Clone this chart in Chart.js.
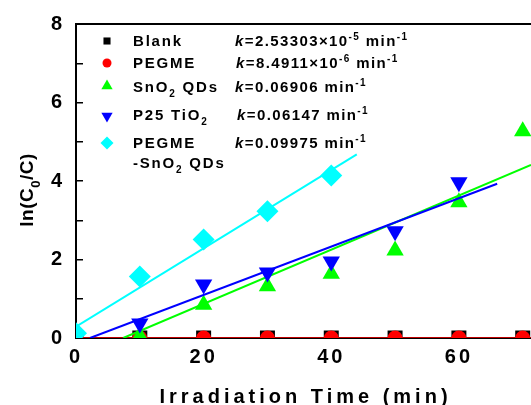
<!DOCTYPE html>
<html><head><meta charset="utf-8">
<script src="https://cdn.jsdelivr.net/npm/chart.js@4.4.0/dist/chart.umd.min.js"></script>
<style>html,body{margin:0;padding:0;background:#fff;} canvas{display:block;}</style>
</head><body>
<canvas id="c" width="531" height="405"></canvas>
<script>
// ---- data ----
const timeMin = [0, 10, 20, 30, 40, 50, 60, 70];
const blankY = [0, 0, 0, 0, 0, 0, 0, 0];
const pegmeY = [0, 0, 0, 0, 0, 0, 0, 0];
const sno2X = [10, 20, 30, 40, 50, 60, 70];
const sno2Y = [0.05, 0.85, 1.32, 1.64, 2.23, 3.46, 5.27];
const p25X = [0, 10, 20, 30, 40, 50, 60];
const p25Y = [0.05, 0.37, 1.36, 1.67, 1.95, 2.72, 3.97];
const pegmeSno2X = [0, 10, 20, 30, 40];
const pegmeSno2Y = [0.12, 1.57, 2.51, 3.23, 4.14];
// fitted line end points
const blankFitX = [0, 71.3], blankFitY = [0, 0];
const pegmeFitX = [0, 71.3], pegmeFitY = [0, 0];
const sno2FitX = [7.4, 71.3], sno2FitY = [0, 4.41];
const p25FitX = [2.2, 66], p25FitY = [0, 3.93];
const pegmeSno2FitX = [0, 44], pegmeSno2FitY = [0.29, 4.68];
// axes
const xMin = 0, xMax = 71.3, xStep = 10, xLabelEvery = 20;
const yMin = 0, yMax = 8, yStep = 1, yLabelEvery = 2;
const xTitle = 'Irradiation Time (min)';
const yTitle = [['ln(C', 'n'], ['0', 'sub'], ['/C)', 'n']];
// legend text
const legendNames = [
  [['Blank', 'n']],
  [['PEGME', 'n']],
  [['SnO', 'n'], ['2', 'sub'], [' QDs', 'n']],
  [['P25 TiO', 'n'], ['2', 'sub']],
  [['PEGME', 'n']]
];
const legendNames2 = [null, null, null, null, [['-SnO', 'n'], ['2', 'sub'], [' QDs', 'n']]];
const legendK = [
  [['k', 'i'], ['=2.53303\u00d710', 'n'], ['-5', 'sup'], [' min', 'n'], ['-1', 'sup']],
  [['k', 'i'], ['=8.4911\u00d710', 'n'], ['-6', 'sup'], [' min', 'n'], ['-1', 'sup']],
  [['k', 'i'], ['=0.06906 min', 'n'], ['-1', 'sup']],
  [['k', 'i'], ['=0.06147 min', 'n'], ['-1', 'sup']],
  [['k', 'i'], ['=0.09975 min', 'n'], ['-1', 'sup']]
];
const seriesColors = ['#000000', '#ff0000', '#00ff00', '#0000ff', '#00ffff'];
const seriesStyles = ['rect', 'circle', 'triangle', 'triangle', 'rectRot'];
const seriesRot = [0, 0, 0, 180, 0];

const pts = (xs, ys) => xs.map((x, i) => ({x: x, y: ys[i]}));

function marker(xs, ys, i, r, order) {
  return {type: 'scatter', data: pts(xs, ys), backgroundColor: seriesColors[i],
    pointStyle: seriesStyles[i], pointRotation: seriesRot[i], pointRadius: r,
    pointHoverRadius: r, pointBorderWidth: 0, borderWidth: 0, showLine: false, clip: 0, order: order};
}
function fit(xs, ys, i, w, order) {
  return {type: 'scatter', data: pts(xs, ys), borderColor: seriesColors[i], borderWidth: w,
    showLine: true, pointRadius: 0, pointHoverRadius: 0, clip: 0, order: order, tension: 0};
}

const FONT = '"Liberation Sans", Arial, sans-serif';

function drawMarker(ctx, style, rot, x, y, r) {
  ctx.beginPath();
  if (style === 'circle') { ctx.arc(x, y, r, 0, Math.PI * 2); }
  else if (style === 'rect') { const s = r * Math.SQRT1_2; ctx.rect(x - s, y - s, 2 * s, 2 * s); }
  else if (style === 'rectRot') { ctx.moveTo(x - r, y); ctx.lineTo(x, y - r); ctx.lineTo(x + r, y); ctx.lineTo(x, y + r); ctx.closePath(); }
  else if (style === 'triangle') {
    let a = rot * Math.PI / 180 - Math.PI / 2;
    ctx.moveTo(x + Math.cos(a) * r, y + Math.sin(a) * r);
    for (let k = 1; k < 3; k++) { const b = a + k * 2 * Math.PI / 3; ctx.lineTo(x + Math.cos(b) * r, y + Math.sin(b) * r); }
    ctx.closePath();
  }
  ctx.fill();
}

function drawRich(ctx, segs, x, yc, size, spacing, measureOnly) {
  const base = yc + 0.36 * size;
  const small = Math.round(size * 0.66);
  let cx = x;
  for (const [t, m] of segs) {
    let f, by;
    if (m === 'i') { f = 'italic bold ' + size + 'px ' + FONT; by = base; }
    else if (m === 'sub') { f = 'bold ' + small + 'px ' + FONT; by = base + size * 0.33; }
    else if (m === 'sup') { f = 'bold ' + small + 'px ' + FONT; by = base - size * 0.45; }
    else { f = 'bold ' + size + 'px ' + FONT; by = base; }
    ctx.font = f;
    ctx.letterSpacing = spacing + 'px';
    if (!measureOnly) ctx.fillText(t, cx, by);
    cx += ctx.measureText(t).width;
  }
  return cx - x;
}

const deco = {
  id: 'deco',
  beforeDraw(chart) { chart.ctx.letterSpacing = '3px'; },
  beforeDatasetsDraw(chart) { chart.ctx.letterSpacing = '0px'; },
  afterDraw(chart) {
    const ctx = chart.ctx, a = chart.chartArea;
    ctx.save();
    // top frame line
    ctx.strokeStyle = '#000'; ctx.lineWidth = 2;
    ctx.beginPath(); ctx.moveTo(a.left - 1, a.top); ctx.lineTo(a.right, a.top); ctx.stroke();
    ctx.fillStyle = '#000'; ctx.textAlign = 'left';
    // x title
    ctx.font = 'bold 20px ' + FONT; ctx.letterSpacing = '4px';
    const w = ctx.measureText(xTitle).width - 4;
    ctx.fillText(xTitle, (a.left + a.right) / 2 - w / 2, 396 + 7);
    // y title
    ctx.save();
    ctx.translate(27, 190); ctx.rotate(-Math.PI / 2);
    const wy = drawRich(ctx, yTitle, 0, 0, 19, 0.5, true);
    drawRich(ctx, yTitle, -wy / 2, -0.5, 19, 0.5, false);
    ctx.restore();
    // legend
    const rowY = [41, 63, 87, 115, 143];
    const mY = [41, 63, 86, 116, 143];
    const mR = [5, 4.5, 6.5, 6.5, 6.5];
    const kX = [235, 236, 235, 237, 235];
    for (let i = 0; i < 5; i++) {
      ctx.fillStyle = seriesColors[i];
      drawMarker(ctx, seriesStyles[i], seriesRot[i], 107, mY[i], mR[i]);
      ctx.fillStyle = '#000';
      drawRich(ctx, legendNames[i], 133, rowY[i], 15, 1.8, false);
      if (legendNames2[i]) drawRich(ctx, legendNames2[i], 133, 163, 15, 1.8, false);
      drawRich(ctx, legendK[i], kX[i], rowY[i], 15, 1.4, false);
    }
    ctx.restore();
  }
};

new Chart(document.getElementById('c'), {
  type: 'scatter',
  data: {datasets: [
    fit(pegmeSno2FitX, pegmeSno2FitY, 4, 2, 1),
    marker(pegmeSno2X, pegmeSno2Y, 4, 11, 2),
    fit(p25FitX, p25FitY, 3, 2, 3),
    marker(p25X, p25Y, 3, 10, 4),
    fit(sno2FitX, sno2FitY, 2, 2, 5),
    marker(sno2X, sno2Y, 2, 10, 6),
    fit(pegmeFitX, pegmeFitY, 1, 1.5, 7),
    marker(timeMin, pegmeY, 1, 7.5, 8),
    fit(blankFitX, blankFitY, 0, 1.5, 9),
    marker(timeMin, blankY, 0, 10.6, 10)
  ]},
  options: {
    responsive: false, animation: false, devicePixelRatio: 1,
    layout: {autoPadding: false, padding: {top: 24, left: 0, right: 0, bottom: 0}},
    plugins: {legend: {display: false}, tooltip: {enabled: false}},
    scales: {
      x: {
        type: 'linear', min: xMin, max: xMax,
        afterFit(s) { s.height = 67; s.paddingLeft = 0; s.paddingRight = 0; },
        afterBuildTicks(s) { s.ticks = s.ticks.filter(t => Math.abs(t.value / xStep - Math.round(t.value / xStep)) < 1e-6); },
        ticks: {stepSize: xStep, autoSkip: false, maxRotation: 0, color: '#000', padding: 14,
          font: {family: FONT, size: 20, weight: 'bold'},
          callback: v => (v % xLabelEvery === 0 ? String(v) : '')},
        grid: {drawOnChartArea: false, drawTicks: true, tickLength: -7, color: '#000', lineWidth: 1.5},
        border: {display: true, color: '#000', width: 2}
      },
      y: {
        type: 'linear', min: yMin, max: yMax,
        afterFit(s) { s.width = 76; s.paddingTop = 0; s.paddingBottom = 0; },
        ticks: {stepSize: yStep, autoSkip: false, color: '#000', padding: 18,
          font: {family: FONT, size: 20, weight: 'bold'},
          callback: v => (v % yLabelEvery === 0 ? String(v) : '')},
        grid: {drawOnChartArea: false, drawTicks: true, tickLength: -7, color: '#000', lineWidth: 1.5},
        border: {display: true, color: '#000', width: 2}
      }
    }
  },
  plugins: [deco]
});
</script>
</body></html>
